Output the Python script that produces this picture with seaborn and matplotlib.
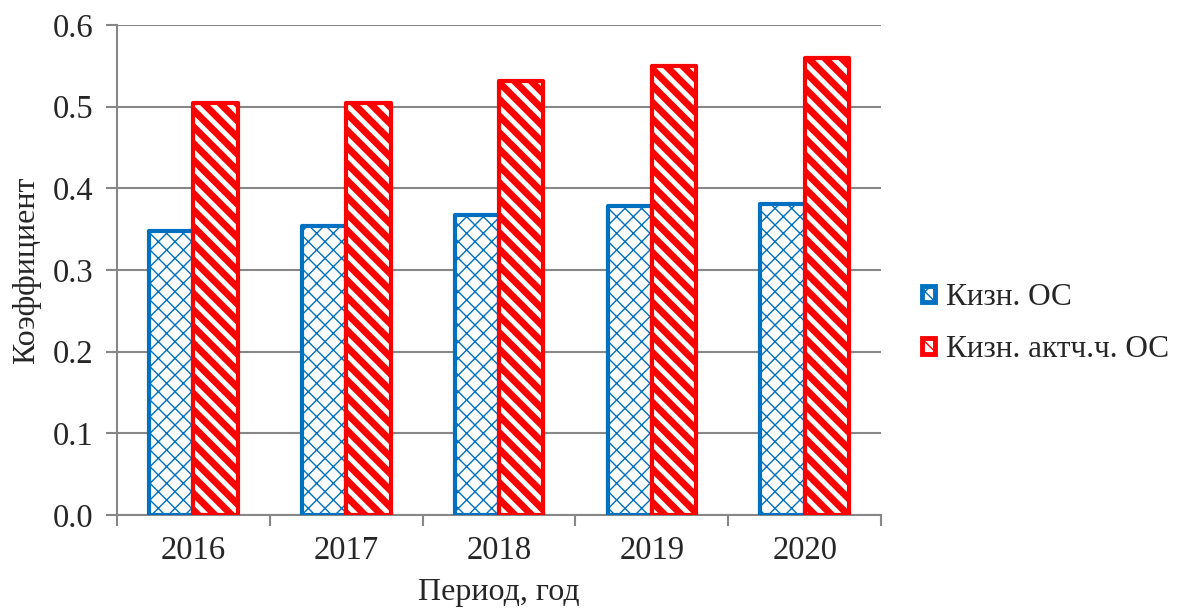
import matplotlib
matplotlib.use("Agg")
import matplotlib.pyplot as plt
from matplotlib.patches import Patch
import seaborn as sns
import pandas as pd

# Data
years = ["2016", "2017", "2018", "2019", "2020"]
series_names = ["Кизн. ОС", "Кизн. актч.ч. ОС"]
kizn_os = [0.348, 0.354, 0.367, 0.379, 0.381]
kizn_active = [0.505, 0.504, 0.531, 0.550, 0.560]
y_ticks = [0.0, 0.1, 0.2, 0.3, 0.4, 0.5, 0.6]

colors = {"Кизн. ОС": "#0070C0", "Кизн. актч.ч. ОС": "#FF0000"}
hatches = {"Кизн. ОС": "xx", "Кизн. актч.ч. ОС": "\\\\"}
hatch_lw = {"Кизн. ОС": 1.0, "Кизн. актч.ч. ОС": 5.0}

df = pd.DataFrame({
    "year": years * 2,
    "value": kizn_os + kizn_active,
    "series": [series_names[0]] * len(years) + [series_names[1]] * len(years),
})

sns.set_theme(style="white")
plt.rcParams["font.family"] = ["Liberation Serif", "DejaVu Serif"]
plt.rcParams["hatch.linewidth"] = 1.0

fig = plt.figure(figsize=(11.78, 6.11), dpi=100)
ax = fig.add_axes([0.0993, 0.157, 0.6487, 0.802])

sns.barplot(data=df, x="year", y="value", hue="series", order=years,
            hue_order=series_names, palette=colors, width=0.58, gap=0,
            legend=False, ax=ax, zorder=3)

for name, container in zip(series_names, ax.containers):
    for bar in container:
        bar.set_facecolor("white")
        bar.set_edgecolor(colors[name])
        bar.set_linewidth(3.0)
        bar.set_hatch(hatches[name])
        if hasattr(bar, "set_hatch_linewidth"):
            bar.set_hatch_linewidth(hatch_lw[name])
        bar.set_joinstyle("round")

# Axes styling
grid_color = "#878787"
tick_fs = 23.5
label_fs = 23
ax.set_ylim(0, 0.6)
ax.set_xlim(-0.5, len(years) - 0.5)
ax.set_yticks(y_ticks)
ax.set_yticklabels([f"{v:.1f}" for v in y_ticks], fontsize=tick_fs)
ax.yaxis.grid(True, color=grid_color, linewidth=1.5, zorder=0)
ax.set_axisbelow(True)

# category boundaries carry tick marks, labels sit at centers
ax.set_xticks([i - 0.5 for i in range(len(years) + 1)])
ax.set_xticklabels([""] * (len(years) + 1))
ax.set_xticks(range(len(years)), minor=True)
ax.set_xticklabels(years, minor=True, fontsize=tick_fs)
ax.tick_params(axis="x", which="major", direction="out", length=8,
               width=1.5, color=grid_color, bottom=True)
ax.tick_params(axis="x", which="minor", length=0, pad=15)
ax.tick_params(axis="y", direction="out", length=8, width=1.5,
               color=grid_color, left=True, pad=9)

for side in ["top", "right"]:
    ax.spines[side].set_visible(False)
for side in ["left", "bottom"]:
    ax.spines[side].set_color(grid_color)
    ax.spines[side].set_linewidth(1.5)

ax.set_xlabel("Период, год", fontsize=label_fs, labelpad=8)
ax.set_ylabel("Коэффициент", fontsize=label_fs, labelpad=8)

handles = []
for name in series_names:
    p = Patch(facecolor="white", edgecolor=colors[name], hatch=hatches[name],
              linewidth=3.5, label=name)
    handles.append(p)
leg = fig.legend(handles=handles, loc="center left",
                 bbox_to_anchor=(0.7827, 0.4705), frameon=False, fontsize=22.5,
                 handlelength=0.42, handleheight=0.42, handletextpad=0.35,
                 labelspacing=0.72, borderpad=0, borderaxespad=0)

fig.savefig("out.png", dpi=100)
